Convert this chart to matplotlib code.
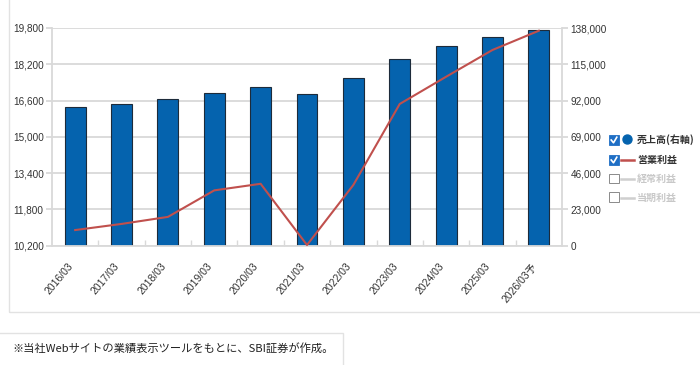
import matplotlib
matplotlib.use("Agg")
import matplotlib.pyplot as plt
from matplotlib.patches import Rectangle, Ellipse
from matplotlib.lines import Line2D

plt.rcParams['font.family'] = ['Liberation Sans', 'Noto Sans CJK JP', 'DejaVu Sans']

# data
periods = ["2016/03", "2017/03", "2018/03", "2019/03", "2020/03", "2021/03",
           "2022/03", "2023/03", "2024/03", "2025/03", "2026/03予"]
sales = [87700, 89800, 92900, 96900, 100400, 96300, 106300, 118500, 126500, 132400, 136500]
op_profit = [10890, 11160, 11470, 12640, 12930, 10230, 12880, 16450, 17650, 18830, 19680]
left_ticks = [10200, 11800, 13400, 15000, 16600, 18200, 19800]
right_ticks = [0, 23000, 46000, 69000, 92000, 115000, 138000]
legend_rows = [("売上高(右軸)", True, "bar"), ("営業利益", True, "line"),
               ("経常利益", False, "line"), ("当期利益", False, "line")]
footnote = "※当社Webサイトの業績表示ツールをもとに、SBI証券が作成。"

W, H = 700, 365
BAR_C = "#0563ae"
LINE_C = "#c0504d"
GRID_C = "#d9d9d9"
TXT_C = "#333333"


def px(x, y):
    return x / W, 1 - y / H


fig = plt.figure(figsize=(7, 3.65), dpi=100)

# outer frames
fig.add_artist(Rectangle(px(9, 312), 700 / W, 330 / H, transform=fig.transFigure,
                         fill=False, edgecolor="#e2e2e2", lw=1))
fig.add_artist(Rectangle(px(-5, 372), 348 / W, 39 / H, transform=fig.transFigure,
                         fill=False, edgecolor="#e2e2e2", lw=1))
fig.text(*px(12, 348), footnote, family=['Noto Sans CJK JP'], fontsize=8.1,
         color="#222222", va="center", ha="left")

ax = fig.add_axes([52 / W, 1 - 245.7 / H, (562 - 52) / W, (245.7 - 28) / H])
x = list(range(len(periods)))

# bars: right axis
ax.bar(x, sales, width=0.45, color=BAR_C, edgecolor="#1d2b3a", linewidth=0.8, zorder=2)
ax.set_ylim(0, 138000)
ax.set_xlim(-0.5, len(periods) - 0.5)
ax.set_axisbelow(True)
ax.grid(axis="y", color=GRID_C, lw=1.3)
ax.set_xticks(x)
ax.set_xticklabels(periods, rotation=50, ha="right", fontsize=7.5, color=TXT_C)
ax.set_xticks([i + 0.5 for i in x[:-1]], minor=True)
ax.tick_params(axis="x", which="major", length=0, pad=11)
ax.tick_params(axis="x", which="minor", direction="in", length=4, color=GRID_C, width=1)
for s in ["left", "right", "bottom"]:
    ax.spines[s].set_color(GRID_C)
    ax.spines[s].set_linewidth(1.3)
ax.spines["top"].set_visible(False)

# line: left axis
ax2 = ax.twinx()
ax2.plot(x, op_profit, color=LINE_C, lw=1.5, zorder=3, clip_on=False)
ax2.set_ylim(10200, 19800)
ax2.yaxis.tick_left()
ax2.set_yticks(left_ticks)
ax2.set_yticklabels([f"{v:,}" for v in left_ticks])
ax2.tick_params(axis="y", length=4, color=GRID_C, width=1.3, pad=2,
                labelsize=7.2, labelcolor=TXT_C)
for s in ax2.spines.values():
    s.set_visible(False)

# twinx moved the bar axis ticks to the left, put them back on the right
ax.yaxis.tick_right()
ax.set_yticks(right_ticks)
ax.set_yticklabels([f"{v:,}" for v in right_ticks])
ax.tick_params(axis="y", length=4, color=GRID_C, width=1.3, pad=2,
               labelsize=7.2, labelcolor=TXT_C)

# legend with check boxes
row_y = [140, 160, 178.5, 197.5]
for (label, checked, kind), y in zip(legend_rows, row_y):
    if checked:
        fig.add_artist(Rectangle(px(609, y + 4.5), 9.5 / W, 9.5 / H, transform=fig.transFigure,
                                 facecolor="#1f6fc5", edgecolor="#1f6fc5", lw=0.6))
        cx, cy = zip(px(611.2, y), px(613.5, y + 2.8), px(616.8, y - 2.8))
        fig.add_artist(Line2D(cx, cy, transform=fig.transFigure, color="white", lw=1.2))
        tc = TXT_C
    else:
        fig.add_artist(Rectangle(px(609, y + 4.5), 9.5 / W, 9.5 / H, transform=fig.transFigure,
                                 facecolor="white", edgecolor="#8a8a8a", lw=0.7))
        tc = "#c8c8c8"
    if kind == "bar":
        fig.add_artist(Ellipse(px(627.5, y - 0.5), 9 / W, 9 / H, transform=fig.transFigure,
                               color=BAR_C))
    else:
        lx, ly = zip(px(621, y), px(634, y))
        fig.add_artist(Line2D(lx, ly, transform=fig.transFigure,
                              color=LINE_C if checked else "#cfcfcf", lw=1.8))
    fig.text(*px(637, y), label, family=['Noto Sans CJK JP'], fontweight="bold",
             fontsize=7.2, color=tc, va="center", ha="left")

fig.savefig("out.png", dpi=100)
